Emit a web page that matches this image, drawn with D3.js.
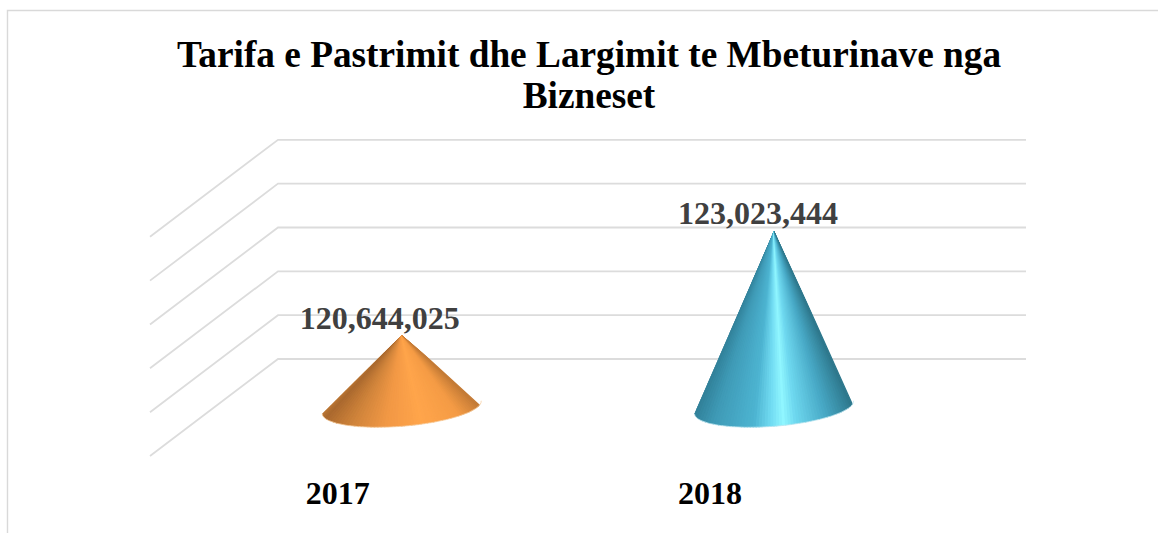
<!DOCTYPE html>
<html><head><meta charset="utf-8">
<script src="https://cdnjs.cloudflare.com/ajax/libs/d3/7.8.5/d3.min.js"></script>
<style>html,body{margin:0;padding:0;background:#fff}svg{display:block}</style></head>
<body><svg id="c" width="1158" height="533"></svg>
<script>
const categories = ["2017","2018"];
const values = [120644025,123023444];
const labels = ["120,644,025","123,023,444"];
const gridTicks = [119000000,120000000,121000000,122000000,123000000,124000000];
const titleLines = ["Tarifa e Pastrimit dhe Largimit te Mbeturinave nga","Bizneset"];
const orangeStops = [[0,"#cf8439"],[.08,"#a9682e"],[.25,"#d0843b"],[.42,"#f29845"],[.6,"#ffa54b"],[.82,"#f49b45"],[1,"#bf7835"]];
const blueStops = [[0,"#2f7d95"],[.15,"#3f9ab6"],[.38,"#4db4d1"],[.48,"#72dcf2"],[.55,"#90f6ff"],[.62,"#6ed8ef"],[.8,"#48a9c6"],[1,"#2c7488"]];
const stops = [orangeStops, blueStops];
const labelShift = [-22,-16];

const svg=d3.select("#c");
const frameColor="#d9d9d9", gridColor="#dcdcdc";
svg.append("path").attr("d","M7.5,533V10.5H1158").attr("fill","none").attr("stroke",frameColor).attr("stroke-width",1.4);

svg.selectAll("text.title").data(titleLines).join("text").attr("class","title")
 .attr("x",589).attr("y",(d,i)=>67+i*41).attr("text-anchor","middle")
 .attr("font-family","'Liberation Serif'").attr("font-weight","bold").attr("font-size",37.3).attr("fill","#000").text(d=>d);

const depth={dx:-128,dy:97};
const backLeft=278, backRight=1026;
const y=d3.scaleLinear().domain([119000000,124000000]).range([407.3,188.1]);
const backY=v=>y(v)-48.3;
const x=d3.scalePoint().domain(categories).range([401.7,774]);

svg.append("g").selectAll("path.grid").data(gridTicks).join("path").attr("class","grid")
 .attr("d",t=>`M${backLeft+depth.dx},${backY(t)+depth.dy}L${backLeft},${backY(t)}H${backRight}`)
 .attr("fill","none").attr("stroke",gridColor).attr("stroke-width",1.8);

const rx=79.8, ry=19, tilt=-4.7;
const rad=tilt*Math.PI/180;
const defs=svg.append("defs");
categories.forEach((c,i)=>{
  const cx=x(c), cy=407.3, top=y(values[i]);
  const L=[cx-rx*Math.cos(rad),cy-rx*Math.sin(rad)], R=[cx+rx*Math.cos(rad),cy+rx*Math.sin(rad)];
  const outline=`M${cx},${top}L${R[0]},${R[1]}A${rx},${ry},${tilt},0,1,${L[0]},${L[1]}Z`;
  defs.append("clipPath").attr("id","clip"+i).append("path").attr("d",outline);
  const col=d3.scaleLinear().domain(stops[i].map(s=>s[0])).range(stops[i].map(s=>s[1])).interpolate(d3.interpolateRgb);
  const n=60, tt=d3.range(n).map(k=>k/n);
  const gg=svg.append("g").attr("clip-path",`url(#clip${i})`);
  const hgt=cy-top;
  const ext=(hgt+40)/hgt;
  gg.selectAll("path").data(tt).join("path")
    .attr("d",t=>{
      const a=L[0]+(R[0]-L[0])*t, b=L[0]+(R[0]-L[0])*(t+1/n);
      return `M${cx},${top-1}L${cx+(a-cx)*ext},${top+hgt*ext}L${cx+(b-cx)*ext},${top+hgt*ext}Z`;
    })
    .attr("fill",t=>col(t)).attr("stroke",t=>col(t)).attr("stroke-width",1.3);
  svg.append("path").attr("d",`M${R[0]},${R[1]}A${rx},${ry},${tilt},0,1,${L[0]},${L[1]}`)
    .attr("fill","none").attr("stroke",i?"#bfe6f0":"#f6cfa4").attr("stroke-width",1).attr("opacity",.8);
  svg.append("text").attr("x",cx+labelShift[i]).attr("y",top-6.5).attr("text-anchor","middle")
    .attr("font-family","'Liberation Serif'").attr("font-weight","bold").attr("font-size",32).attr("fill","#404040").text(labels[i]);
  svg.append("text").attr("x",cx-64).attr("y",504).attr("text-anchor","middle")
    .attr("font-family","'Liberation Serif'").attr("font-weight","bold").attr("font-size",32).attr("fill","#000").text(c);
});
</script></body></html>
